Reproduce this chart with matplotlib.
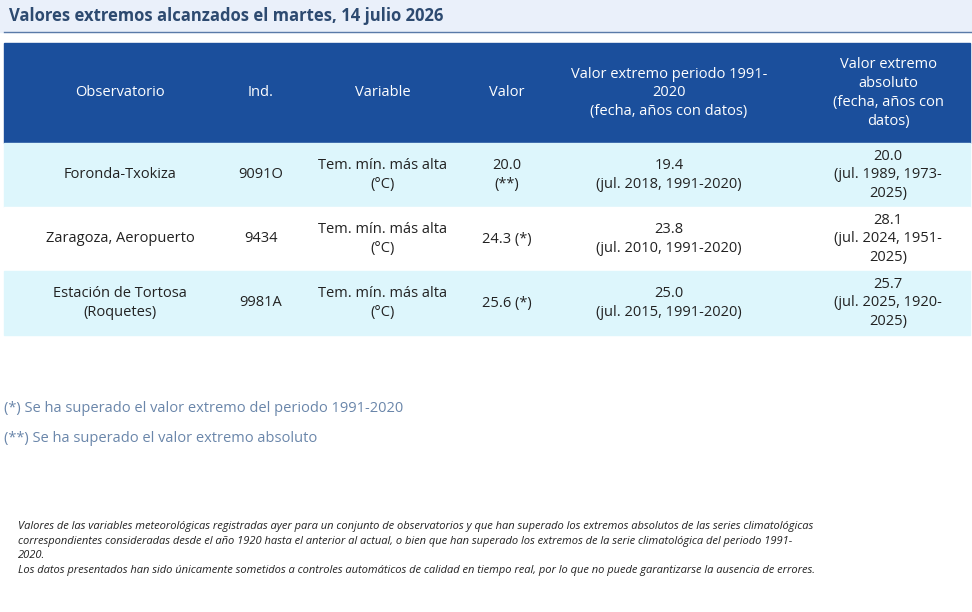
import matplotlib.pyplot as plt
from matplotlib.patches import Rectangle

plt.rcParams['font.family'] = ['Open Sans', 'DejaVu Sans']

title = "Valores extremos alcanzados el martes, 14 julio 2026"
headers = ["Observatorio", "Ind.", "Variable", "Valor",
           "Valor extremo periodo 1991-\n2020\n(fecha, años con datos)",
           "Valor extremo\nabsoluto\n(fecha, años con\ndatos)"]
observatorios = ["Foronda-Txokiza", "Zaragoza, Aeropuerto", "Estación de Tortosa\n(Roquetes)"]
indicativos = ["9091O", "9434", "9981A"]
variables = ["Tem. mín. más alta\n(°C)"] * 3
valores = ["20.0\n(**)", "24.3 (*)", "25.6 (*)"]
ext_periodo = ["19.4\n(jul. 2018, 1991-2020)", "23.8\n(jul. 2010, 1991-2020)",
               "25.0\n(jul. 2015, 1991-2020)"]
ext_absoluto = ["20.0\n(jul. 1989, 1973-\n2025)", "28.1\n(jul. 2024, 1951-\n2025)",
                "25.7\n(jul. 2025, 1920-\n2025)"]
notas = ["(*) Se ha superado el valor extremo del periodo 1991-2020",
         "(**) Se ha superado el valor extremo absoluto"]
pie = ("Valores de las variables meteorológicas registradas ayer para un conjunto de observatorios y que han superado los extremos absolutos de las series climatológicas\n"
       "correspondientes consideradas desde el año 1920 hasta el anterior al actual, o bien que han superado los extremos de la serie climatológica del periodo 1991-\n"
       "2020.\n"
       "Los datos presentados han sido únicamente sometidos a controles automáticos de calidad en tiempo real, por lo que no puede garantizarse la ausencia de errores.")

col_x = [120, 261, 383, 507, 669, 888]
row_top = [143, 207, 271]
row_h = 64
row_bg = ["#ddf6fc", "white", "#ddf6fc"]

fig = plt.figure(figsize=(9.72, 6.12), dpi=100)
ax = fig.add_axes([0, 0, 1, 1])
ax.set_xlim(0, 972)
ax.set_ylim(612, 0)
ax.axis('off')

# title band
ax.add_patch(Rectangle((0, 0), 972, 32, color="#eaf0fa"))
ax.plot([4, 972], [32, 32], color="#5a7aa8", lw=1)
ax.text(9, 16, title, fontsize=12, fontweight='bold', color="#2d4a70", va='center')

# header
ax.add_patch(Rectangle((4, 43), 966, 100, color="#1b4f9c"))
for x, h in zip(col_x, headers):
    ax.text(x, 93, h, color="white", fontsize=10.5, ha='center', va='center', linespacing=1.35)

# rows
cols = [observatorios, indicativos, variables, valores, ext_periodo, ext_absoluto]
for i, top in enumerate(row_top):
    ax.add_patch(Rectangle((4, top), 966, row_h, color=row_bg[i]))
    for x, c in zip(col_x, cols):
        ax.text(x, top + row_h / 2, c[i], color="#222222", fontsize=10.5,
                ha='center', va='center', linespacing=1.35)

# notes
for y, n in zip([409, 439], notas):
    ax.text(4, y, n, color="#6a86aa", fontsize=10.5, va='center')

ax.text(18, 521, pie, color="#222222", fontsize=8, style='italic', va='top', linespacing=1.45)

fig.savefig("out.png", dpi=100)
